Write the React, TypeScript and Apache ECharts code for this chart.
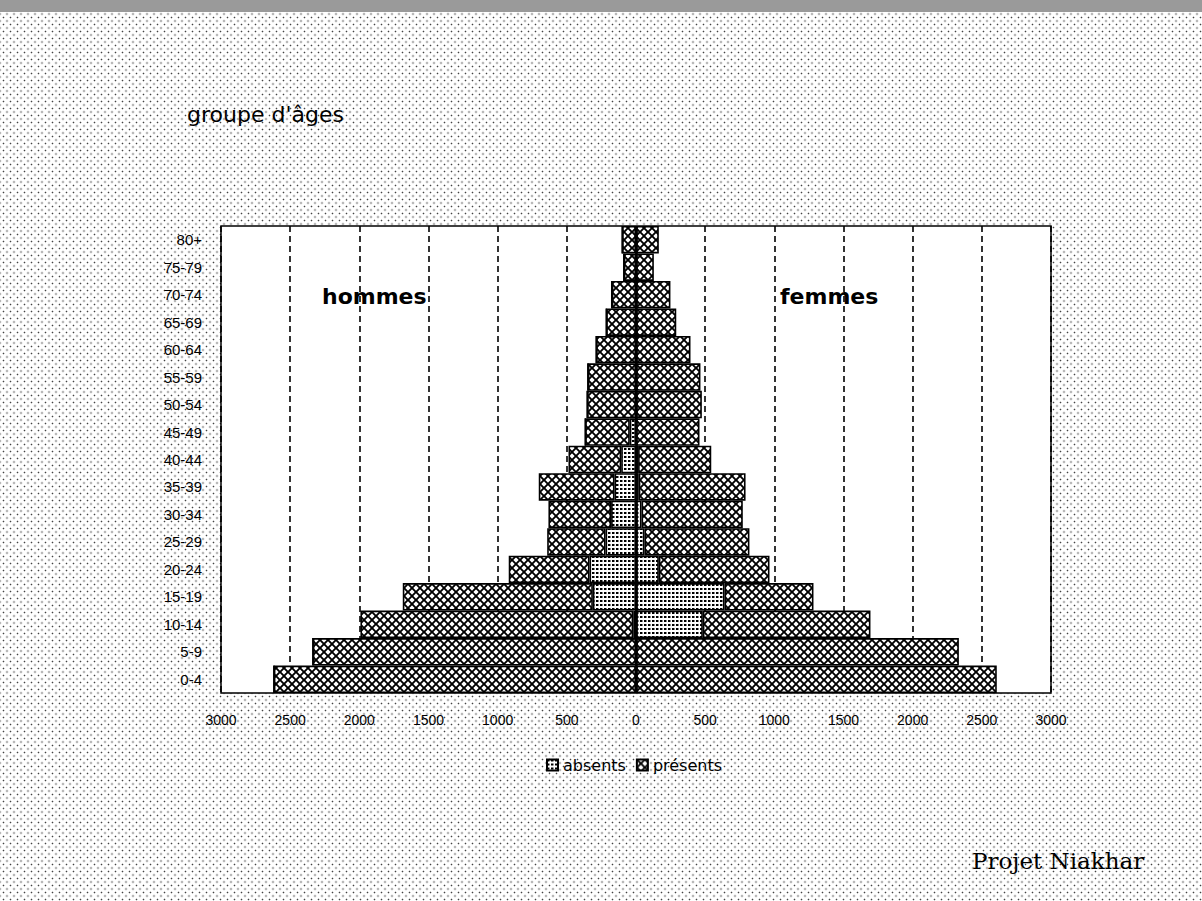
import React, { useEffect, useRef } from "react";
import * as echarts from "echarts";

const categories = [
  "0-4", "5-9", "10-14", "15-19", "20-24", "25-29", "30-34", "35-39", "40-44",
  "45-49", "50-54", "55-59", "60-64", "65-69", "70-74", "75-79", "80+",
];
const hommesAbsents = [0, 0, 20, 312, 336, 220, 180, 155, 107, 45, 0, 0, 0, 0, 0, 0, 0];
const hommesPresents = [2618, 2336, 1972, 1374, 584, 422, 453, 548, 381, 322, 353, 348, 288, 215, 175, 88, 100];
const femmesAbsents = [0, 0, 483, 640, 165, 61, 40, 20, 15, 0, 0, 0, 0, 0, 0, 0, 0];
const femmesPresents = [2608, 2334, 1212, 643, 800, 759, 732, 772, 529, 459, 476, 466, 394, 291, 249, 129, 165];
const legendNames = ["absents", "présents"];

function makePattern(kind: "hatch" | "dots") {
  const s = kind === "hatch" ? 8 : 4;
  const c = document.createElement("canvas");
  c.width = s;
  c.height = s;
  const ctx = c.getContext("2d")!;
  ctx.fillStyle = "#fff";
  ctx.fillRect(0, 0, s, s);
  if (kind === "hatch") {
    ctx.strokeStyle = "#000";
    ctx.lineWidth = 1.9;
    ctx.beginPath();
    ctx.moveTo(-1, -1);
    ctx.lineTo(s + 1, s + 1);
    ctx.moveTo(-1, s + 1);
    ctx.lineTo(s + 1, -1);
    ctx.stroke();
  } else {
    ctx.fillStyle = "#000";
    ctx.fillRect(0, 0, 2, 2);
    ctx.fillStyle = "#888";
    ctx.fillRect(2, 0, 1, 2);
  }
  return { image: c.toDataURL(), repeat: "repeat", imageWidth: s, imageHeight: s } as any;
}

export default function App() {
  const ref = useRef<HTMLDivElement>(null);
  useEffect(() => {
    if (!ref.current) return;
    const chart = echarts.init(ref.current, undefined, { renderer: "svg" });
    const hatch = makePattern("hatch");
    const dots = makePattern("dots");
    const base = {
      type: "bar",
      stack: "pyramide",
      barCategoryGap: "0%",
      emphasis: { disabled: true },
    };
    const border = { borderColor: "#000", borderWidth: 1.6 };
    chart.setOption({
      animation: false,
      grid: {
        left: 221,
        right: 151,
        top: 226,
        bottom: 208,
        show: true,
        backgroundColor: "#fff",
        borderColor: "#000",
        borderWidth: 1.5,
      },
      legend: {
        data: legendNames,
        top: 752,
        left: 541,
        itemWidth: 11,
        itemHeight: 11,
        itemGap: 10,
        icon: "rect",
        textStyle: { fontSize: 16, color: "#000", fontFamily: "DejaVu Sans", padding: [0, 0, 0, 0] },
      },
      xAxis: {
        type: "value",
        min: -3000,
        max: 3000,
        interval: 500,
        axisLine: { show: false },
        axisTick: { show: false },
        axisLabel: {
          formatter: (v: number) => String(Math.abs(v)),
          fontSize: 14,
          color: "#000",
          fontFamily: "Liberation Sans",
          margin: 20,
        },
        splitLine: {
          show: true,
          lineStyle: { color: "#000", type: [6, 4], width: 1.6 },
        },
      },
      yAxis: {
        type: "category",
        data: categories,
        axisLine: { show: false },
        axisTick: { show: false },
        axisLabel: { fontSize: 15, color: "#000", fontFamily: "Liberation Sans", margin: 19 },
      },
      graphic: [
        {
          type: "text",
          left: 187,
          top: 103,
          style: { text: "groupe d'âges", fontSize: 22, fontFamily: "DejaVu Sans", fill: "#000" },
        },
        {
          type: "text",
          left: 322,
          top: 285,
          z: 100,
          style: { text: "hommes", fontSize: 22, fontWeight: "bold", fontFamily: "DejaVu Sans", fill: "#000" },
        },
        {
          type: "text",
          left: 780,
          top: 285,
          z: 100,
          style: { text: "femmes", fontSize: 22, fontWeight: "bold", fontFamily: "DejaVu Sans", fill: "#000" },
        },
        {
          type: "text",
          left: 972,
          top: 849,
          style: { text: "Projet Niakhar", fontSize: 23, fontFamily: "DejaVu Serif", fill: "#000" },
        },
      ],
      series: [
        { ...base, name: "absents", data: hommesAbsents.map((v) => -v), itemStyle: { color: dots, ...border } },
        { ...base, name: "présents", data: hommesPresents.map((v) => -v), itemStyle: { color: hatch, ...border } },
        { ...base, name: "absents", data: femmesAbsents, itemStyle: { color: dots, ...border } },
        {
          ...base,
          name: "présents",
          data: femmesPresents,
          itemStyle: { color: hatch, ...border },
          markLine: {
            silent: true,
            symbol: "none",
            label: { show: false },
            lineStyle: { color: "#000", type: "solid", width: 2.5 },
            data: [{ xAxis: 0 }],
          },
        },
      ],
    });
    return () => chart.dispose();
  }, []);
  return (
    <div
      style={{
        position: "fixed",
        left: 0,
        top: 0,
        width: 1202,
        height: 901,
        backgroundColor: "#fff",
        backgroundImage:
          "radial-gradient(circle, #444 0.7px, transparent 1.1px), radial-gradient(circle, #444 0.7px, transparent 1.1px)",
        backgroundSize: "7px 7px",
        backgroundPosition: "0 0, 3.5px 3.5px",
      }}
    >
      <div style={{ position: "absolute", left: 0, top: 0, width: 1202, height: 12, background: "#9a9a9a" }} />
      <div ref={ref} style={{ position: "absolute", left: 0, top: 0, width: 1202, height: 901 }} />
    </div>
  );
}
